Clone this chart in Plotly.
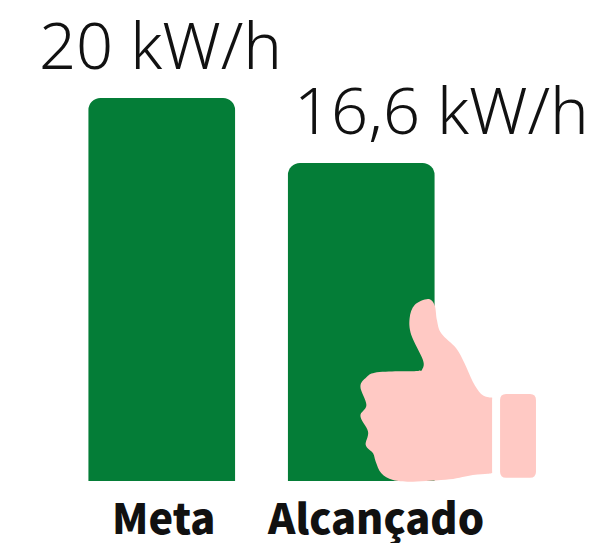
import plotly.graph_objects as go

categories = ["Meta", "Alcançado"]
values = [20, 16.6]
value_labels = ["20 kW/h", "16,6 kW/h"]

OFF = 8  # page body margin
W, H = 596 - OFF, 543 - OFF
L, R, T, B = 61.5 - OFF, 461.5 - OFF, 0.0, 481.0 - OFF
Y_MAX = 20 * (B - T) / 383

# Decorative thumbs-up outline, in reference zoom-crop units
thumb = [(265,57),(285,75),(292,120),(305,160),(350,205),(375,250),(400,305),(425,342),(448,352),(458,353),
         (458,365),(458,450),(458,565),(458,578),(445,581),(400,585),(330,598),(220,605),(160,600),(125,580),
         (108,545),(100,520),(78,495),(85,455),(62,408),(80,375),(62,320),(80,292),(105,278),(175,274),
         (235,273),(248,268),(250,240),(215,165),(210,115),(225,75)]
cuff = (482, 342, 590, 593)


def px(zx, zy):
    ix, iy = 340 + zx / 3 - OFF, 280 + zy / 3 - OFF
    return (ix - L) / (R - L), (B - iy) / (B - T)


def smooth(points):
    n = len(points)
    d = "M%.4f,%.4f" % px(*points[0])
    for i in range(n):
        p0, p1, p2, p3 = points[i - 1], points[i], points[(i + 1) % n], points[(i + 2) % n]
        c1 = (p1[0] + (p2[0] - p0[0]) / 6, p1[1] + (p2[1] - p0[1]) / 6)
        c2 = (p2[0] - (p3[0] - p1[0]) / 6, p2[1] - (p3[1] - p1[1]) / 6)
        d += " C%.4f,%.4f %.4f,%.4f %.4f,%.4f" % (*px(*c1), *px(*c2), *px(*p2))
    return d + " Z"


def rounded(x0, y0, x1, y1, r=18):
    pts = [("M", x0 + r, y0), ("L", x1 - r, y0), ("Q", x1, y0, x1, y0 + r), ("L", x1, y1 - r),
           ("Q", x1, y1, x1 - r, y1), ("L", x0 + r, y1), ("Q", x0, y1, x0, y1 - r),
           ("L", x0, y0 + r), ("Q", x0, y0, x0 + r, y0)]
    out = []
    for p in pts:
        if p[0] == "Q":
            out.append("Q%.4f,%.4f %.4f,%.4f" % (*px(p[1], p[2]), *px(p[3], p[4])))
        else:
            out.append("%s%.4f,%.4f" % (p[0], *px(p[1], p[2])))
    return " ".join(out) + " Z"


value_font = dict(family="Noto Sans", size=65, color="#111111", weight=300)
cat_font = dict(family="Noto Sans CJK SC", size=41.5, color="#111111", weight=900)

fig = go.Figure(go.Bar(
    x=categories, y=values, marker=dict(color="#047d37", line_width=0),
    cliponaxis=False, hoverinfo="skip",
))
fig.update_layout(
    width=W, height=H, paper_bgcolor="white", plot_bgcolor="white", showlegend=False,
    margin=dict(l=L, r=W - R, t=T, b=H - B, autoexpand=False),
    bargap=0.265, barcornerradius=12,
    xaxis=dict(type="category", range=[-0.5, 1.5], showticklabels=False, showgrid=False,
               zeroline=False, showline=False, ticks=""),
    yaxis=dict(range=[0, Y_MAX], visible=False),
    shapes=[
        dict(type="path", xref="paper", yref="paper", path=smooth(thumb), fillcolor="#ffc9c4", line_width=0),
        dict(type="path", xref="paper", yref="paper", path=rounded(*cuff), fillcolor="#ffc9c4", line_width=0),
    ],
    annotations=[
        dict(x=categories[0], y=values[0], text=value_labels[0], showarrow=False, xshift=-1.5, yshift=8,
             yanchor="bottom", font=value_font),
        dict(x=categories[1], y=values[1], text=value_labels[1], showarrow=False, xshift=80, yshift=8,
             yanchor="bottom", font=value_font),
        dict(x=categories[0], y=0, yref="paper", text=categories[0], showarrow=False, xshift=2, yshift=-3,
             yanchor="top", font=cat_font),
        dict(x=categories[1], y=0, yref="paper", text=categories[1], showarrow=False, xshift=14, yshift=-3,
             yanchor="top", font=cat_font),
    ],
)
fig.write_html("out.html")
